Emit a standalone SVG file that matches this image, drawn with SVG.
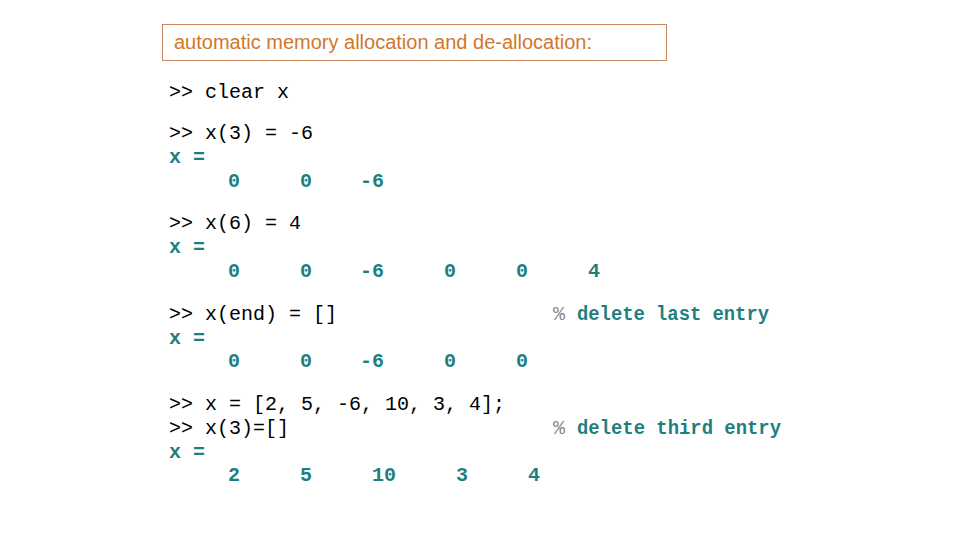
<svg xmlns="http://www.w3.org/2000/svg" width="960" height="540" viewBox="0 0 960 540">
<style>
.c{font-family:"Liberation Mono",monospace;font-size:20px;fill:#000}
.o{font-family:"Liberation Mono",monospace;font-size:20px;fill:#1f7f7f;font-weight:bold}
.n{font-family:"Liberation Mono",monospace;font-size:20px;fill:#1f7f7f;font-weight:bold;text-anchor:middle}
.p{font-family:"Liberation Mono",monospace;font-size:20px;fill:#888}
</style>
<rect width="960" height="540" fill="#fff"/>
<g id="title">
<rect x="162.5" y="24.5" width="504" height="36" fill="#fff" stroke="#c8865a"/>
<text x="174" y="49" font-family="Liberation Sans,Arial,sans-serif" font-size="20" fill="#d0772e">automatic memory allocation and de-allocation:</text>
</g>
<g id="code">
<text class="c" x="169" y="98">&gt;&gt; clear x</text>
<text class="c" x="169" y="139">&gt;&gt; x(3) = -6</text>
<text class="o" x="169" y="163">x =</text>
<text class="n" y="187"><tspan x="234">0</tspan><tspan x="306">0</tspan><tspan x="372">-6</tspan></text>
<text class="c" x="169" y="229">&gt;&gt; x(6) = 4</text>
<text class="o" x="169" y="253">x =</text>
<text class="n" y="277"><tspan x="234">0</tspan><tspan x="306">0</tspan><tspan x="372">-6</tspan><tspan x="450">0</tspan><tspan x="522">0</tspan><tspan x="594">4</tspan></text>
<text class="c" x="169" y="320">&gt;&gt; x(end) = []</text>
<text class="p" x="553" y="320">%</text>
<text class="o" x="577" y="320" textLength="192" lengthAdjust="spacingAndGlyphs">delete last entry</text>
<text class="o" x="169" y="344">x =</text>
<text class="n" y="367"><tspan x="234">0</tspan><tspan x="306">0</tspan><tspan x="372">-6</tspan><tspan x="450">0</tspan><tspan x="522">0</tspan></text>
<text class="c" x="169" y="410">&gt;&gt; x = [2, 5, -6, 10, 3, 4];</text>
<text class="c" x="169" y="434">&gt;&gt; x(3)=[]</text>
<text class="p" x="553" y="434">%</text>
<text class="o" x="577" y="434" textLength="204" lengthAdjust="spacingAndGlyphs">delete third entry</text>
<text class="o" x="169" y="458">x =</text>
<text class="n" y="481"><tspan x="234">2</tspan><tspan x="306">5</tspan><tspan x="384">10</tspan><tspan x="462">3</tspan><tspan x="534">4</tspan></text>
</g>
</svg>
